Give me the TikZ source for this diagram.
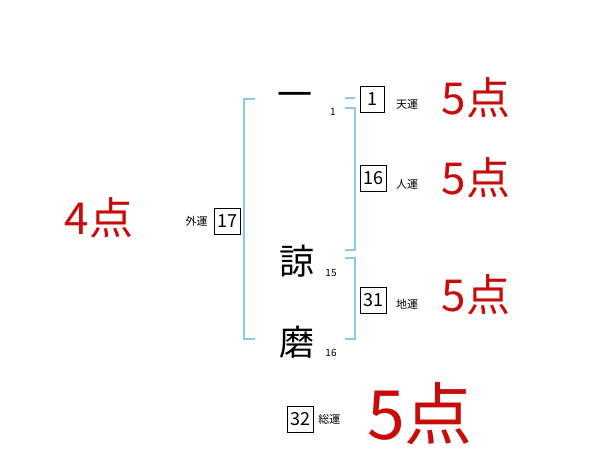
\documentclass[tikz,border=0pt]{standalone}
\usepackage{fontspec}
\newfontfamily\jpfont{Noto Sans CJK JP}
\usetikzlibrary{positioning}
\definecolor{cBrk}  {RGB}{140,200,232}
\definecolor{cScore}{RGB}{200,12,12}
\tikzset{
  kanji/.style={font=\jpfont\fontsize{35}{35}\selectfont,inner sep=0pt},
  strk/.style={font=\jpfont\fontsize{10}{10}\selectfont,inner sep=0pt},
  unbox/.style={draw,thin,font=\jpfont\fontsize{18}{18}\selectfont,inner sep=2pt,
                minimum width=26pt,minimum height=26pt}, % fortune number box
  unlab/.style={font=\jpfont\fontsize{11}{11}\selectfont,inner sep=0pt},
  score/.style={font=\jpfont\fontsize{44}{44}\selectfont,text=cScore,inner sep=0pt},
  brk/.style={cBrk,line width=1.5pt},
}
\begin{document}
\begin{tikzpicture}[x=1pt,y=-1pt]
  \useasboundingbox (0,0) rectangle (600,470);

  % name characters with stroke counts
  \node[kanji] (c1) at (295,100) {一};
  \node[kanji] (c2) at (297,261) {諒};
  \node[kanji] (c3) at (297,342) {磨};
  \node[strk]  (s1) at (333,112) {1};
  \node[strk]  (s2) at (331,273) {15};
  \node[strk]  (s3) at (331,353) {16};

  % brackets
  \coordinate (gT) at (255,99);  \coordinate (gB) at (255,339);
  \draw[brk] (gT) -- (244,99) -- (244,339) -- (gB);
  \coordinate (tT) at (345,98);
  \draw[brk] (tT) -- (355,98);
  \coordinate (jT) at (345,108); \coordinate (jB) at (345,250);
  \draw[brk] (jT) -- (355,108) -- (355,250) -- (jB);
  \coordinate (cT) at (345,258); \coordinate (cB) at (345,339);
  \draw[brk] (cT) -- (355,258) -- (355,339) -- (cB);

  % fortune boxes and labels
  \node[unbox,minimum width=24pt] (ten) at (372,99)  {1};
  \node[unbox] (jin) at (373,178) {16};
  \node[unbox] (chi) at (373,300) {31};
  \node[unbox] (gai) at (227,221) {17};
  \node[unbox] (sou) at (300,419) {32};
  \node[unlab,anchor=west] (tenL) at (396,104) {天運};
  \node[unlab,anchor=west] (jinL) at (396,184) {人運};
  \node[unlab,anchor=west] (chiL) at (396,304) {地運};
  \node[unlab,left=6pt of gai]  (gaiL) {外運};
  \node[unlab,right=5pt of sou] (souL) {総運};

  % scores
  \node[score] (p1) at (476,98)  {5点};
  \node[score] (p2) at (476,178) {5点};
  \node[score] (p3) at (476,295) {5点};
  \node[score] (p0) at (99,218)  {4点};
  \node[score,font=\jpfont\fontsize{68}{68}\selectfont] (p4) at (420,414) {5点};
\end{tikzpicture}
\end{document}
